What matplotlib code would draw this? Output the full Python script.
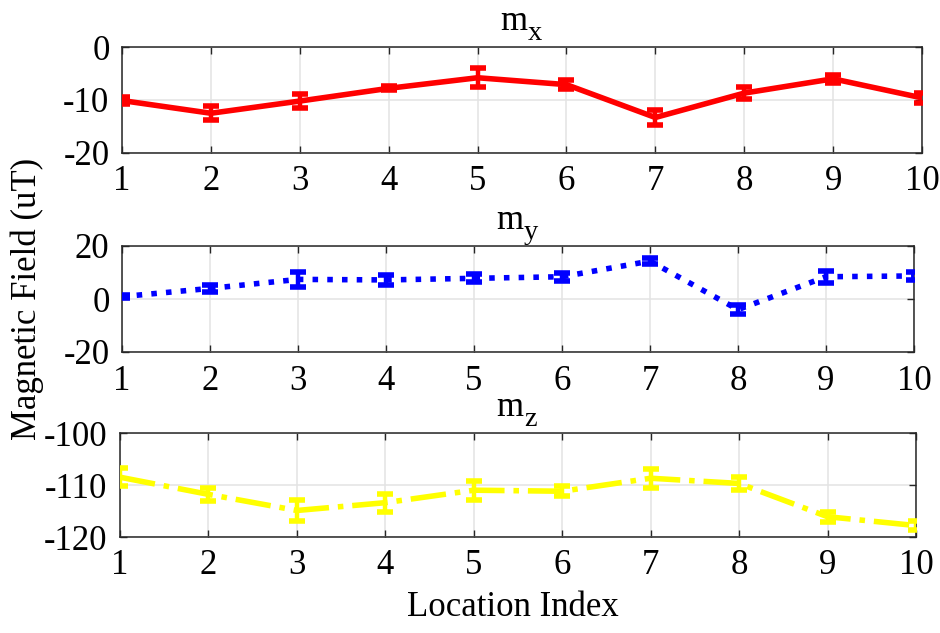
import matplotlib
matplotlib.use("Agg")
import matplotlib.pyplot as plt
import matplotlib.transforms as mtransforms

# ---- data ----
location = [1, 2, 3, 4, 5, 6, 7, 8, 9, 10]
mx_mean = [-10.1, -12.5, -10.2, -7.8, -5.8, -7.1, -13.3, -8.7, -6.0, -9.6]
mx_err = [0.6, 1.3, 1.3, 0.4, 1.8, 0.9, 1.4, 1.1, 0.8, 1.0]
my_mean = [0.9, 4.0, 7.4, 7.2, 7.8, 8.4, 14.3, -4.0, 8.4, 8.7]
my_err = [0.6, 1.2, 2.9, 2.0, 1.5, 1.5, 1.0, 1.8, 2.3, 1.5]
mz_mean = [-108.5, -111.8, -114.9, -113.4, -111.0, -111.2, -108.7, -109.7, -116.1, -117.8]
mz_err = [1.7, 1.3, 2.1, 1.7, 1.8, 1.0, 1.8, 1.3, 1.0, 0.8]

title_main = ["m", "m", "m"]
title_sub = ["x", "y", "z"]
yticks_list = [[-20, -10, 0], [-20, 0, 20], [-120, -110, -100]]
ylims = [(-20, 0), (-20, 20), (-120, -100)]
colors = ["#ff0000", "#0000ff", "#ffff00"]
styles = ["-", ":", "-."]
xlabel = "Location Index"
ylabel = "Magnetic Field (uT)"

plt.rcParams["font.family"] = ["Liberation Serif", "DejaVu Serif"]

W, H = 940, 633
fig = plt.figure(figsize=(W / 100, H / 100), dpi=100)

# axes boxes in pixels: left, right, top, bottom
boxes = [(122, 922, 47, 153), (122, 914, 246, 352), (120, 916, 433, 537)]
FS = 25

series = [(mx_mean, mx_err), (my_mean, my_err), (mz_mean, mz_err)]
for i, (l, r, t, b) in enumerate(boxes):
    ax = fig.add_axes([l / W, 1 - b / H, (r - l) / W, (b - t) / H])
    mean, err = series[i]
    ax.errorbar(location, mean, yerr=err, color=colors[i], linestyle=styles[i],
                linewidth=4.0, elinewidth=3.2, capsize=6, capthick=4, zorder=3)
    ax.set_xlim(1, 10)
    ax.set_ylim(*ylims[i])
    ax.set_xticks(location)
    ax.set_yticks(yticks_list[i])
    ax.set_yticklabels([str(v) for v in yticks_list[i]])
    ax.grid(True, color="#e3e3e3", linewidth=1.1, zorder=0)
    ax.set_axisbelow(True)
    ax.tick_params(direction="in", length=5, width=1.0, top=True, right=True,
                   labelsize=FS, pad=9, color="#262626")
    for s in ax.spines.values():
        s.set_color("#262626")
        s.set_linewidth(1.1)
    # title "m" with a lowered subscript, MATLAB style
    tr_main = ax.transAxes + mtransforms.ScaledTranslation(5 / 100, 17 / 100, fig.dpi_scale_trans)
    ax.text(0.5, 1.0, title_main[i], transform=tr_main, fontsize=FS,
            ha="right", va="baseline")
    tr_sub = ax.transAxes + mtransforms.ScaledTranslation(6 / 100, 7 / 100, fig.dpi_scale_trans)
    ax.text(0.5, 1.0, title_sub[i], transform=tr_sub, fontsize=FS * 0.82,
            ha="left", va="baseline")

fig.text(513 / W, 1 - 607 / H, xlabel, fontsize=FS, ha="center", va="center")
fig.text(27 / W, 1 - 299 / H, ylabel, fontsize=FS, ha="center", va="center", rotation=90)

fig.savefig("out.png", dpi=100)
